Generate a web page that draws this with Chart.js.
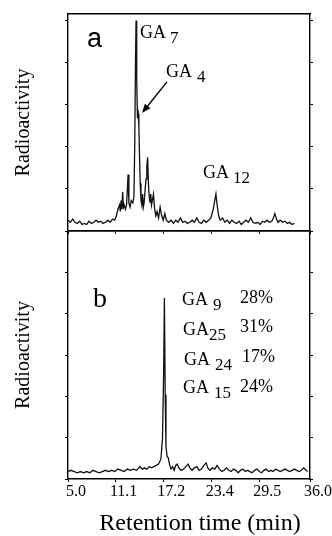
<!DOCTYPE html>
<html><head><meta charset="utf-8">
<script src="https://cdn.jsdelivr.net/npm/chart.js@4/dist/chart.umd.min.js"></script>
<style>
html,body{margin:0;padding:0;background:#fff;}
#wrap{position:relative;width:332px;height:536px;overflow:hidden;background:#fff;}
canvas{position:absolute;left:0;top:0;}
</style></head><body>
<div id="wrap"><canvas id="ca" width="332" height="536" style="width:332px;height:536px"></canvas><canvas id="cb" width="332" height="536" style="width:332px;height:536px"></canvas></div>
<script>
// ---- data ----
const xTickLabels = [5.0, 11.1, 17.2, 23.4, 29.5, 36.0];
const yTicksA = [0, 19.4, 38.8, 58.2, 77.6, 97];
const yTicksB = [0, 16.7, 33.3, 50, 66.7, 83.3, 100];

const timeA = [5.0,5.3,5.6,5.9,6.2,6.5,6.8,7.1,7.4,7.7,8.0,8.3,8.6,8.9,9.2,9.5,9.8,10.1,10.4,10.7,11.0,11.2,11.4,11.6,11.7,11.8,11.9,12.0,12.1,12.2,12.35,12.5,12.6,12.7,12.8,12.95,13.1,13.3,13.45,13.55,13.65,13.72,13.8,13.9,14.0,14.08,14.15,14.25,14.35,14.45,14.55,14.65,14.75,14.9,15.0,15.1,15.2,15.3,15.4,15.5,15.6,15.7,15.8,15.95,16.1,16.25,16.4,16.6,16.8,17.0,17.2,17.4,17.6,17.9,18.2,18.5,18.8,19.1,19.4,19.7,20.0,20.3,20.6,20.9,21.2,21.5,21.8,22.1,22.4,22.7,23.0,23.3,23.6,23.8,23.95,24.1,24.3,24.5,24.8,25.1,25.4,25.7,26.0,26.3,26.6,26.9,27.2,27.5,27.8,28.1,28.4,28.7,29.0,29.3,29.6,29.9,30.2,30.5,30.8,31.1,31.3,31.5,31.7,31.9,32.2,32.5,32.8,33.1,33.4,33.7,34.0];
const radioA = [5,4,5.5,4,3.5,4.5,3,3.5,3,4.5,3.5,4,5,4,4.5,3.5,4,5,4,5.5,5,7,10,12,9,14,10,18,11,12,10,12,19,26,13,11,14,13,16,40,80,97,70,52,54,48,36,22,14,12,17,11,13,20,24,30,34,22,16,13,17,12,14,17,10,7,9,6,11,7,5,8,5,4,5,3.5,5,4,6,4,4.5,3.5,4,5,4,6,4,3.5,5,4,5,6,10,14,17,12,7,5,6,4,5,3.5,5,4,3.5,4.5,3,4,5,4,6,4,3.5,4,3,4.5,4,5,4,4.5,6,8,5.5,4,5,4,4.5,3.5,4,3,3.5];

const timeB = [5.0,5.4,5.8,6.2,6.6,7.0,7.4,7.8,8.2,8.6,9.0,9.4,9.8,10.2,10.6,11.0,11.4,11.8,12.2,12.6,13.0,13.4,13.8,14.2,14.5,14.8,15.1,15.4,15.7,16.0,16.3,16.6,16.9,17.1,17.25,17.35,17.45,17.55,17.7,17.85,18.0,18.2,18.4,18.6,18.8,19.0,19.2,19.5,19.8,20.1,20.4,20.6,20.9,21.2,21.5,21.8,22.1,22.4,22.7,22.9,23.2,23.5,23.8,24.1,24.4,24.7,25.0,25.3,25.6,25.9,26.2,26.5,26.8,27.1,27.4,27.7,28.0,28.3,28.6,28.9,29.2,29.5,29.8,30.1,30.4,30.7,31.0,31.3,31.6,31.9,32.2,32.5,32.8,33.1,33.4,33.7,34.0,34.3,34.6,34.9,35.2,35.5,35.7];
const radioB = [3,3.5,3,2.5,3,2.5,3,2.5,3.5,3,2.5,3,3.5,3,3.5,3,4,3.5,3,4,3.5,4,3.5,5,4,4.5,4,5,4.5,5,5.5,6,8,16,42,73,34,13,9,8.5,6,4,5,3.5,5.5,6,4.5,3.5,4,5,6,4.5,3.5,4.5,5,3.5,4,5.5,6.5,4.5,3.5,4.5,4,5.5,4,3,3.5,4.5,3.5,3,4,3.5,2.5,3.5,4,3,3.5,3,2.5,3.5,4,3,2.5,3.5,4,3,3.5,3,4,3.5,3,3.5,4,3.5,3,3.5,4,3.5,3,3.5,4.5,3.5,3];

// ---- annotation text (label, subscript, data position) ----
const labelsA = [
  {main:'GA', sub:'7',  t:14.22, v:88.9, gap:4},
  {main:'GA', sub:'4',  t:17.55, v:71.0, gap:5},
  {main:'GA', sub:'12', t:22.29, v:24.4, gap:4}
];
const arrowA = {fromT:17.68, fromV:68.7, toT:14.48, toV:54.4};
const labelsB = [
  {main:'GA', sub:'9',  t:19.60, v:70.2, gap:5, pct:'28%', pt:27.03, pv:71.0},
  {main:'GA', sub:'25', t:19.73, v:58.1, gap:0, pct:'31%', pt:27.03, pv:59.3},
  {main:'GA', sub:'24', t:19.86, v:46.0, gap:5, pct:'17%', pt:27.29, pv:47.2},
  {main:'GA', sub:'15', t:19.73, v:34.7, gap:5, pct:'24%', pt:27.03, pv:35.1}
];

const SERIF = '"Liberation Serif","Times New Roman",serif';

function pts(ts, vs){ return ts.map((t,i)=>({x:t, y:vs[i]})); }

function scalesFor(topH, bottomH, yTicks, yMax, showX){
  const blk = '#000';
  return {
    x: {type:'linear', min:5, max:36, position:'bottom',
        afterBuildTicks: s => { s.ticks = xTickLabels.map(v=>({value:v})); },
        afterFit: s => { s.height = bottomH; },
        ticks:{display:showX, color:blk, padding:0, labelOffset:8, maxRotation:0, autoSkip:false,
               font:{family:SERIF, size:16}, callback:v=>Number(v).toFixed(1)},
        grid:{drawOnChartArea:false, drawTicks:true, tickLength:3, color:blk},
        border:{display:true, color:blk, width:1.4}},
    x2: {type:'linear', min:5, max:36, position:'top',
        afterBuildTicks: s => { s.ticks = xTickLabels.map(v=>({value:v})); },
        afterFit: s => { s.height = topH; },
        ticks:{display:false},
        grid:{drawOnChartArea:false, drawTicks:false},
        border:{display:true, color:blk, width:1.4}},
    y: {type:'linear', min:0, max:yMax, position:'left',
        afterBuildTicks: s => { s.ticks = yTicks.map(v=>({value:v})); },
        afterFit: s => { s.width = 68; },
        ticks:{display:false},
        grid:{drawOnChartArea:false, drawTicks:true, tickLength:3, color:blk},
        border:{display:true, color:blk, width:1.4},
        title:{display:true, text:'Radioactivity', color:blk, padding:{top:12, bottom:0},
               font:{family:SERIF, size:20}}},
    y2: {type:'linear', min:0, max:yMax, position:'right',
        afterBuildTicks: s => { s.ticks = yTicks.map(v=>({value:v})); },
        afterFit: s => { s.width = 22; },
        ticks:{display:false},
        grid:{drawOnChartArea:false, drawTicks:true, tickLength:3, color:blk},
        border:{display:true, color:blk, width:1.4}}
  };
}

function drawGA(ctx, xs, ys, L){
  ctx.font = '18px ' + SERIF;
  ctx.textBaseline = 'alphabetic';
  ctx.textAlign = 'left';
  const x = xs.getPixelForValue(L.t), y = ys.getPixelForValue(L.v);
  ctx.fillText(L.main, x, y);
  const w = ctx.measureText(L.main).width;
  ctx.font = '17px ' + SERIF;
  ctx.fillText(L.sub, x + w + L.gap, y + 5);
}

const annotA = {
  id:'annotA',
  afterDatasetsDraw(chart){
    const ctx = chart.ctx, xs = chart.scales.x, ys = chart.scales.y;
    ctx.save();
    ctx.fillStyle = '#000'; ctx.strokeStyle = '#000';
    ctx.font = '27px "Liberation Sans",Arial,sans-serif';
    ctx.textAlign = 'left'; ctx.textBaseline = 'alphabetic';
    ctx.fillText('a', xs.getPixelForValue(7.43), ys.getPixelForValue(84.8));
    labelsA.forEach(L => drawGA(ctx, xs, ys, L));
    // arrow
    const x1 = xs.getPixelForValue(arrowA.fromT), y1 = ys.getPixelForValue(arrowA.fromV);
    const x2 = xs.getPixelForValue(arrowA.toT), y2 = ys.getPixelForValue(arrowA.toV);
    const ang = Math.atan2(y2-y1, x2-x1);
    const hl = 9, hw = 3.5;
    const bx = x2 - hl*Math.cos(ang), by = y2 - hl*Math.sin(ang);
    ctx.lineWidth = 1.4;
    ctx.beginPath(); ctx.moveTo(x1,y1); ctx.lineTo(bx,by); ctx.stroke();
    ctx.beginPath();
    ctx.moveTo(x2,y2);
    ctx.lineTo(bx + hw*Math.sin(ang), by - hw*Math.cos(ang));
    ctx.lineTo(bx - hw*Math.sin(ang), by + hw*Math.cos(ang));
    ctx.closePath(); ctx.fill();
    ctx.restore();
  }
};

const annotB = {
  id:'annotB',
  afterDatasetsDraw(chart){
    const ctx = chart.ctx, xs = chart.scales.x, ys = chart.scales.y;
    ctx.save();
    ctx.fillStyle = '#000';
    ctx.font = '28px ' + SERIF;
    ctx.textAlign = 'left'; ctx.textBaseline = 'alphabetic';
    ctx.fillText('b', xs.getPixelForValue(8.2), ys.getPixelForValue(69.4));
    labelsB.forEach(L => {
      drawGA(ctx, xs, ys, L);
      ctx.font = '18px ' + SERIF;
      ctx.fillText(L.pct, xs.getPixelForValue(L.pt), ys.getPixelForValue(L.pv));
    });
    // x-axis title
    ctx.font = '24px ' + SERIF;
    ctx.textAlign = 'center';
    ctx.fillText('Retention time (min)', 200, 530);
    ctx.restore();
  }
};

function lineDS(data){
  return {data, borderColor:'#111', borderWidth:1.3, pointRadius:0, tension:0, fill:false, xAxisID:'x', yAxisID:'y'};
}

new Chart(document.getElementById('ca'), {
  type:'line',
  data:{datasets:[lineDS(pts(timeA, radioA))]},
  options:{responsive:false, animation:false, devicePixelRatio:1,
    layout:{padding:0},
    plugins:{legend:{display:false}, tooltip:{enabled:false}},
    scales: scalesFor(14, 305, yTicksA, 100, false)},
  plugins:[annotA]
});

new Chart(document.getElementById('cb'), {
  type:'line',
  data:{datasets:[lineDS(pts(timeB, radioB))]},
  options:{responsive:false, animation:false, devicePixelRatio:1,
    layout:{padding:0},
    plugins:{legend:{display:false}, tooltip:{enabled:false}},
    scales: scalesFor(231, 57, yTicksB, 100, true)},
  plugins:[annotB]
});
</script></body></html>
